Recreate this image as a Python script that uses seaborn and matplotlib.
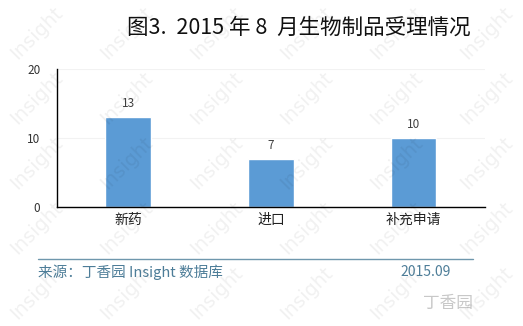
import matplotlib
matplotlib.use("Agg")
import matplotlib.pyplot as plt
import seaborn as sns
import pandas as pd

categories = ["新药", "进口", "补充申请"]
values = [13, 7, 10]
yticks = [0, 10, 20]
title = "图3.  2015 年 8  月生物制品受理情况"
source = "来源：丁香园 Insight 数据库"
date = "2015.09"

sns.set_theme(style="white")
plt.rcParams['font.family'] = ['Noto Sans CJK SC', 'DejaVu Sans']

df = pd.DataFrame({"cat": categories, "val": values})

fig = plt.figure(figsize=(5.23, 3.26), dpi=100)
ax = fig.add_axes([0.109, 0.365, 0.818, 0.423])
ax.set_facecolor("none")

sns.barplot(data=df, x="cat", y="val", color="#5B9BD5", width=0.32, ax=ax,
            saturation=1, zorder=2)

ax.set_ylim(0, 20)
ax.set_yticks(yticks)
ax.set_yticklabels([str(t) for t in yticks], fontsize=8.5, color="#333333")
ax.tick_params(axis="x", labelsize=10, colors="#222222", length=0, pad=4)
ax.tick_params(axis="y", length=0, pad=12)
ax.set_xlabel("")
ax.set_ylabel("")
ax.yaxis.grid(True, color="#f2f2f2", linewidth=0.8, zorder=0)
for s in ["top", "right"]:
    ax.spines[s].set_visible(False)
ax.spines["left"].set_color("black")
ax.spines["bottom"].set_color("black")
ax.spines["left"].set_linewidth(1.0)
ax.spines["bottom"].set_linewidth(1.0)

for c in ax.containers:
    ax.bar_label(c, labels=[str(v) for v in values], padding=5, fontsize=8.5, color="#404040")

fig.text(0.243, 0.915, title, fontsize=15.5, color="#111111", va="center", ha="left")

# footer line
fig.add_artist(plt.Line2D([0.073, 0.905], [0.206, 0.206], color="#6f97ad", linewidth=1.0,
                          transform=fig.transFigure))
fig.text(0.073, 0.165, source, fontsize=10.5, color="#4d7d98", va="center", ha="left")
fig.text(0.765, 0.165, date, fontsize=10, color="#4d7d98", va="center", ha="left")

# logo
fig.text(0.905, 0.07, "丁香园", fontsize=12, color="#c8c8c8", va="center", ha="right")

# watermark (kept fully inside the figure)
for row in range(0, 5):
    for col in range(0, 6):
        x = col * 0.172 + 0.07
        y = row * 0.2 + 0.1
        fig.text(x, y, "Insight", fontsize=14, color="#000000", alpha=0.06,
                 rotation=45, ha="center", va="center", zorder=10, family="DejaVu Sans")

fig.savefig("out.png", dpi=100)
